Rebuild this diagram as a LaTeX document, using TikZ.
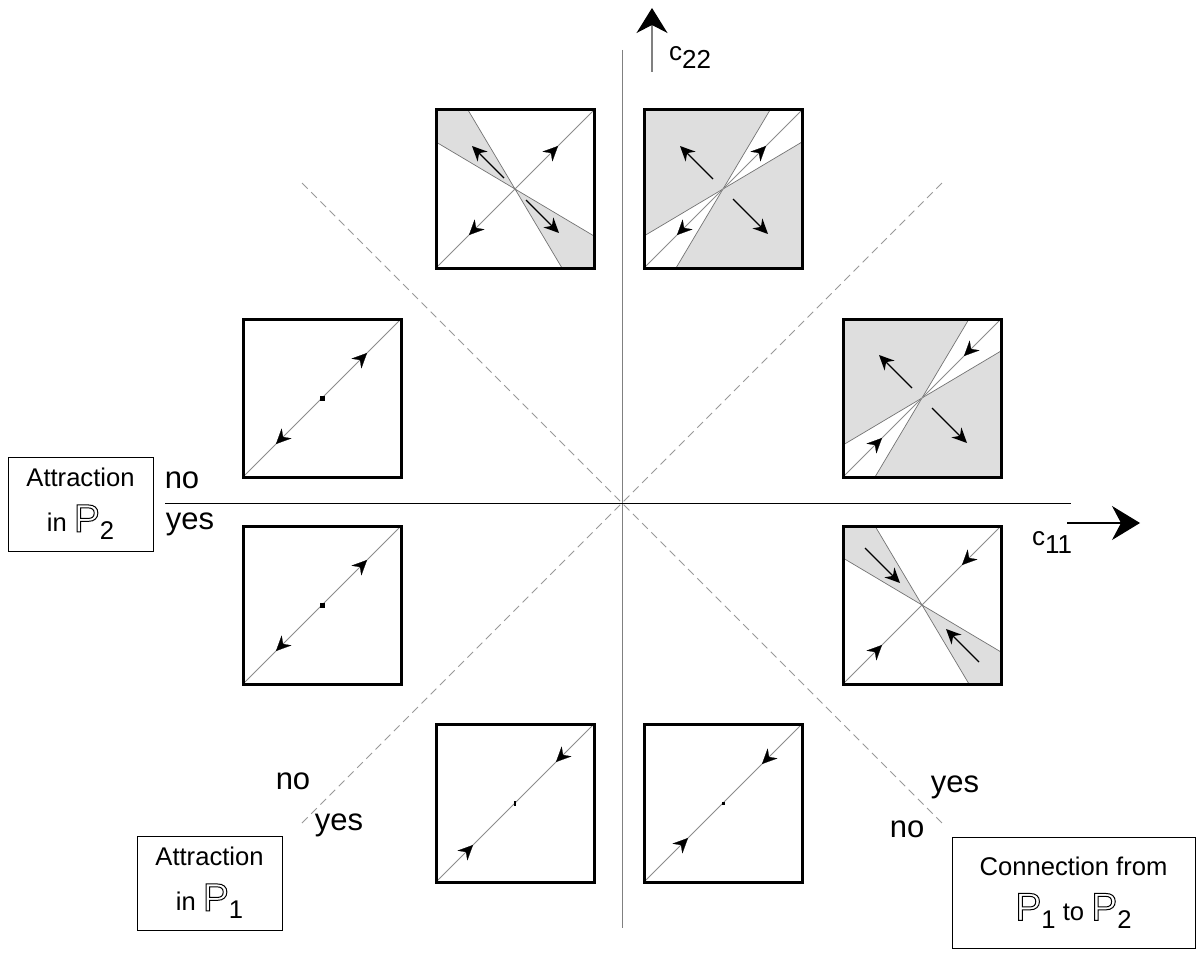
\documentclass[tikz,border=0pt]{standalone}
\usepackage{fontspec}
\setmainfont{Liberation Sans}
\usetikzlibrary{arrows.meta,calc}
\newcommand\PP{{\fontsize{39}{39}\selectfont\special{pdf:literal direct 1 Tr}P\special{pdf:literal direct 0 Tr}}}
\newcommand\lowered[1]{\raisebox{-8pt}{#1}}
\tikzset{
  panelbox/.style={draw=black, line width=3pt, minimum width=158pt, minimum height=158pt, inner sep=0pt},
  diagline/.style={draw=black!45, line width=1pt},
  wedgeline/.style={draw=black!55, line width=0.7pt},
  shadefill/.style={fill=black!13},
  perparrow/.style={black, line width=1.2pt, -{Stealth[length=15pt,width=14pt,inset=5pt]}},
  tipmark/.style={black, line width=0.2pt, -{Stealth[length=15pt,width=14pt,inset=5pt]}},
  labbox/.style={draw=black, line width=1pt, inner sep=0pt, align=center, font=\fontsize{25.6}{45}\selectfont},
  yesno/.style={font=\fontsize{31}{31}\selectfont, inner sep=0pt},
  axislab/.style={font=\fontsize{26}{26}\selectfont, inner sep=0pt},
  axisdash/.style={draw=black!40, line width=1pt, dash pattern=on 8pt off 5pt},
  bigtip/.style={-{Stealth[length=28pt,width=34pt,inset=9pt]}},
}
\newcommand\perpshade{%
  \fill[shadefill] (0,0)--(-47,79)--(-79,79)--(-79,47)--cycle;
  \fill[shadefill] (0,0)--(47,-79)--(79,-79)--(79,-47)--cycle;
  \draw[wedgeline] (-47,79)--(47,-79) (-79,47)--(79,-47);}
\newcommand\diagshade{%
  \fill[shadefill] (0,0)--(47,79)--(-79,79)--(-79,-47)--cycle;
  \fill[shadefill] (0,0)--(79,47)--(79,-79)--(-47,-79)--cycle;
  \draw[wedgeline] (-47,-79)--(47,79) (-79,-47)--(79,47);}
\newcommand\diagonal{\draw[diagline] (-79,-79)--(79,79);}
\newcommand\tipat[2]{\draw[tipmark] ($(#1)+(#2+180:1)$) -- (#1);}
\begin{document}
\begin{tikzpicture}[x=1pt,y=-1pt]
\useasboundingbox (0,0) rectangle (1202,955);
% axes
\coordinate (O) at (622,503);
\coordinate (vtop) at (622,50);
\coordinate (vbot) at (622,928);
\coordinate (hleft) at (165,503);
\coordinate (hright) at (1071,503);
\coordinate (xa) at (1067,523);
\coordinate (xb) at (1140,523);
\coordinate (ya) at (652,72);
\coordinate (yb) at (652,8);
\coordinate (d1a) at (302,183);
\coordinate (d1b) at (942,823);
\coordinate (d2a) at (302,823);
\coordinate (d2b) at (942,183);
\draw[axisdash] (d1a) -- (d1b);
\draw[axisdash] (d2a) -- (d2b);
\draw[black!50, line width=1pt] (vtop) -- (vbot);
\draw[black, line width=1pt] (hleft) -- (hright);
\draw[black, line width=1.2pt, bigtip] (xa) -- (xb);
\draw[black!50, line width=1.2pt, -{Stealth[length=25pt,width=31pt,inset=8pt,black]}] (ya) -- (yb);
\node[axislab, anchor=west] (c22) at (669,58) {c\lowered{22}};
\node[axislab, anchor=west] (c11) at (1032,543) {c\lowered{11}};
% panel TL
\begin{scope}[shift={(515,189)},yscale=-1]
  \perpshade \diagonal
  \draw[perparrow] (-11,11) -- (-43,43);
  \draw[perparrow] (11,-11) -- (44,-44);
  \tipat{43,43}{45} \tipat{-46,-46}{225}
\end{scope}
% panel TR
\begin{scope}[shift={(723,189)},yscale=-1]
  \diagshade \diagonal
  \draw[perparrow] (-10,10) -- (-43,43);
  \draw[perparrow] (10,-10) -- (45,-45);
  \tipat{43,43}{45} \tipat{-46,-46}{225}
\end{scope}
% panel RU
\begin{scope}[shift={(922,398)},yscale=-1]
  \diagshade \diagonal
  \draw[perparrow] (-10,10) -- (-43,43);
  \draw[perparrow] (10,-10) -- (45,-45);
  \tipat{42,42}{225} \tipat{-40,-40}{45}
\end{scope}
% panel RL
\begin{scope}[shift={(922,605)},yscale=-1]
  \perpshade \diagonal
  \draw[perparrow] (-57,57) -- (-22,22);
  \draw[perparrow] (57,-57) -- (24,-24);
  \tipat{40,40}{225} \tipat{-40,-40}{45}
\end{scope}
% panel LU
\begin{scope}[shift={(322,398)},yscale=-1]
  \diagonal
  \fill[black] (-2.5,-2.5) rectangle (2.5,2.5);
  \tipat{45,45}{45} \tipat{-46,-46}{225}
\end{scope}
% panel LL
\begin{scope}[shift={(322,605)},yscale=-1]
  \diagonal
  \fill[black] (-2.5,-2.5) rectangle (2.5,2.5);
  \tipat{45,45}{45} \tipat{-46,-46}{225}
\end{scope}
% panel BL
\begin{scope}[shift={(515,803)},yscale=-1]
  \diagonal
  \fill[black] (-1.3,-2.5) rectangle (1.3,2.5);
  \tipat{41,41}{225} \tipat{-42,-42}{45}
\end{scope}
% panel BR
\begin{scope}[shift={(723,803)},yscale=-1]
  \diagonal
  \fill[black] (-1.5,-1.5) rectangle (1.5,1.5);
  \tipat{39,39}{225} \tipat{-35,-35}{45}
\end{scope}
% panel borders
\node[panelbox] (pTL) at (515,189) {};
\node[panelbox] (pTR) at (723,189) {};
\node[panelbox] (pRU) at (922,398) {};
\node[panelbox] (pRL) at (922,605) {};
\node[panelbox] (pLU) at (322,398) {};
\node[panelbox] (pLL) at (322,605) {};
\node[panelbox] (pBL) at (515,803) {};
\node[panelbox] (pBR) at (723,803) {};
% label boxes
\node[labbox, minimum width=145pt, minimum height=94pt] (attr2) at (80.5,504) {Attraction\\in \PP\lowered{2}};
\node[labbox, minimum width=145pt, minimum height=94pt] (attr1) at (209.5,883) {Attraction\\in \PP\lowered{1}};
\node[labbox, minimum width=243pt, minimum height=111pt] (conn) at (1073.5,892.5) {Connection from\\\PP\lowered{1} to \PP\lowered{2}};
% yes / no
\node[yesno] (no1) at (182,480) {no};
\node[yesno] (yes1) at (190,524) {yes};
\node[yesno] (no2) at (293,781) {no};
\node[yesno] (yes2) at (339,825) {yes};
\node[yesno] (yes3) at (955,787) {yes};
\node[yesno] (no3) at (907,829) {no};
\end{tikzpicture}
\end{document}
